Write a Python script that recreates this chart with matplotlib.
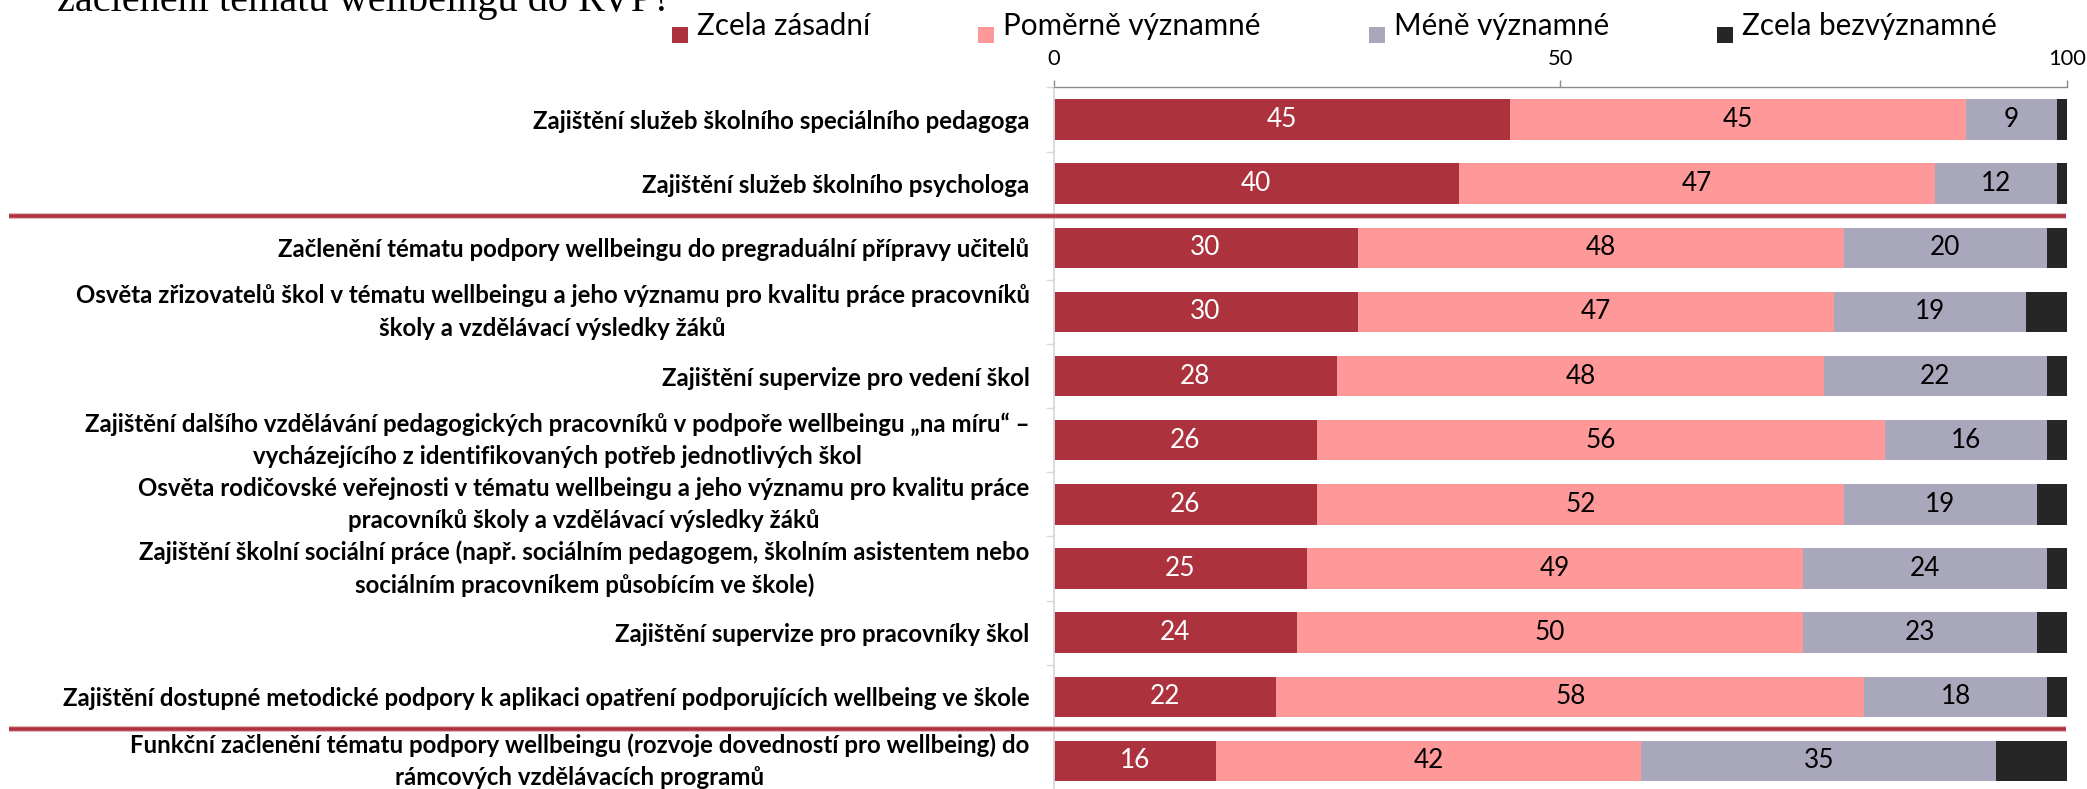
import matplotlib
matplotlib.use("Agg")
import matplotlib.pyplot as plt
import numpy as np
from matplotlib.transforms import blended_transform_factory
from matplotlib.lines import Line2D
from matplotlib.patches import Rectangle
from matplotlib.font_manager import FontProperties

# ---------------- data ----------------
title_text = "začlenění tématu wellbeingu do RVP?"

categories = [
    "Zajištění služeb školního speciálního pedagoga",
    "Zajištění služeb školního psychologa",
    "Začlenění tématu podpory wellbeingu do pregraduální přípravy učitelů",
    "Osvěta zřizovatelů škol v tématu wellbeingu a jeho významu pro kvalitu práce pracovníků\nškoly a vzdělávací výsledky žáků",
    "Zajištění supervize pro vedení škol",
    "Zajištění dalšího vzdělávání pedagogických pracovníků v podpoře wellbeingu „na míru“ –\nvycházejícího z identifikovaných potřeb jednotlivých škol",
    "Osvěta rodičovské veřejnosti v tématu wellbeingu a jeho významu pro kvalitu práce\npracovníků školy a vzdělávací výsledky žáků",
    "Zajištění školní sociální práce (např. sociálním pedagogem, školním asistentem nebo\nsociálním pracovníkem působícím ve škole)",
    "Zajištění supervize pro pracovníky škol",
    "Zajištění dostupné metodické podpory k aplikaci opatření podporujících wellbeing ve škole",
    "Funkční začlenění tématu podpory wellbeingu (rozvoje dovedností pro wellbeing) do\nrámcových vzdělávacích programů",
]

series_names = ["Zcela zásadní", "Poměrně významné", "Méně významné", "Zcela bezvýznamné"]
zcela_zasadni = [45, 40, 30, 30, 28, 26, 26, 25, 24, 22, 16]
pomerne_vyznamne = [45, 47, 48, 47, 48, 56, 52, 49, 50, 58, 42]
mene_vyznamne = [9, 12, 20, 19, 22, 16, 19, 24, 23, 18, 35]
zcela_bezvyznamne = [1, 1, 2, 4, 2, 2, 3, 2, 3, 2, 7]

x_ticks = [0, 50, 100]

# ---------------- style ----------------
colors = ["#AC333D", "#FF9999", "#A9A7BB", "#262626"]
label_colors = ["white", "black", "black", None]
SANS = "Lato"
SERIF = "Liberation Serif"

W, H, DPI = 2087, 789, 100
fig = plt.figure(figsize=(W / DPI, H / DPI), dpi=DPI)
renderer = fig.canvas.get_renderer()


def px2pt(px):
    return px * 72.0 / DPI


def fit(text, target_px, **kw):
    t = fig.text(0.5, 0.5, text, fontsize=20, **kw)
    w = t.get_window_extent(renderer=renderer).width
    t.remove()
    return 20.0 * target_px / w


cat_fs = fit(categories[9], 966, family=SANS, fontweight="bold")
leg_fs = fit(series_names[0], 173, family=SANS)
title_fs = 29.0
tick_fs = leg_fs * 0.74
val_fs = leg_fs * 0.88

# ---------------- title (cut off at top) ----------------
fig.text(57 / W, 1 - 11 / H, title_text, family=SERIF, fontsize=title_fs,
         ha="left", va="baseline", color="black")

# ---------------- legend (manual row) ----------------
x = 672.0
for name, c in zip(series_names, colors):
    fig.add_artist(Rectangle((x / W, 1 - 43 / H), 16 / W, 16 / H,
                             transform=fig.transFigure, facecolor=c,
                             edgecolor="none"))
    t = fig.text((x + 25) / W, 1 - 35 / H, name, family=SANS, fontsize=leg_fs,
                 ha="left", va="baseline", color="black")
    w = t.get_window_extent(renderer=renderer).width
    x = x + 25 + w + 108

# ---------------- axes ----------------
top_px, pitch = 87.4, 64.15
n = len(categories)
bottom_px = top_px + n * pitch
ax = fig.add_axes([1053.5 / W, 1 - bottom_px / H, (2067 - 1053.5) / W, (n * pitch) / H])

y = np.arange(n)
left = np.zeros(n)
series = [zcela_zasadni, pomerne_vyznamne, mene_vyznamne, zcela_bezvyznamne]
for name, vals, c, lc in zip(series_names, series, colors, label_colors):
    vals = np.asarray(vals, dtype=float)
    bars = ax.barh(y, vals, left=left, height=0.63, color=c, label=name, zorder=2)
    if lc is not None:
        ax.bar_label(bars, labels=[f"{v:.0f}" for v in vals], label_type="center",
                     color=lc, fontsize=val_fs, family=SANS)
    left += vals

ax.set_xlim(0, 100)
ax.set_ylim(n - 0.5, -0.5)

ax.xaxis.tick_top()
ax.set_xticks(x_ticks)
ax.set_xticklabels([str(v) for v in x_ticks], fontsize=tick_fs, family=SANS)
ax.tick_params(axis="x", which="major", direction="out", length=px2pt(7),
               width=1.0, color="#8C8C8C", pad=px2pt(11), labelcolor="black")

ax.set_yticks(y)
ax.set_yticklabels(categories)
ax.set_yticks(np.arange(-0.5, n, 1.0), minor=True)
ax.tick_params(axis="y", which="major", length=0, pad=px2pt(24))
ax.tick_params(axis="y", which="minor", direction="out", length=px2pt(8),
               width=1.0, color="#D9D9D9")

fp = FontProperties(family=SANS, weight="bold", size=cat_fs)
_, lp_h, lp_d = renderer.get_text_width_height_descent("lp", fp, ismath=False)
ls = 0.89 * 32.0 / (lp_h - lp_d)
for lbl in ax.get_yticklabels():
    lbl.set_family(SANS)
    lbl.set_fontweight("bold")
    lbl.set_fontsize(cat_fs)
    lbl.set_multialignment("center")
    lbl.set_linespacing(ls)
    if "\n" in lbl.get_text():
        lbl.set_verticalalignment("center")

for s in ["right", "bottom"]:
    ax.spines[s].set_visible(False)
ax.spines["top"].set_color("#8C8C8C")
ax.spines["top"].set_linewidth(1.0)
ax.spines["left"].set_color("#D9D9D9")
ax.spines["left"].set_linewidth(1.3)

# ---------------- red separator lines between groups ----------------
trans = blended_transform_factory(fig.transFigure, ax.transData)
for yb in [1.5, n - 1.5]:
    fig.add_artist(Line2D([9 / W, 2066 / W], [yb, yb], transform=trans,
                          color="#E4B5B9", lw=px2pt(6), solid_capstyle="butt"))
    fig.add_artist(Line2D([9 / W, 2066 / W], [yb, yb], transform=trans,
                          color="#B0323E", lw=px2pt(3.6), solid_capstyle="butt"))

fig.savefig("out.png", dpi=DPI)
